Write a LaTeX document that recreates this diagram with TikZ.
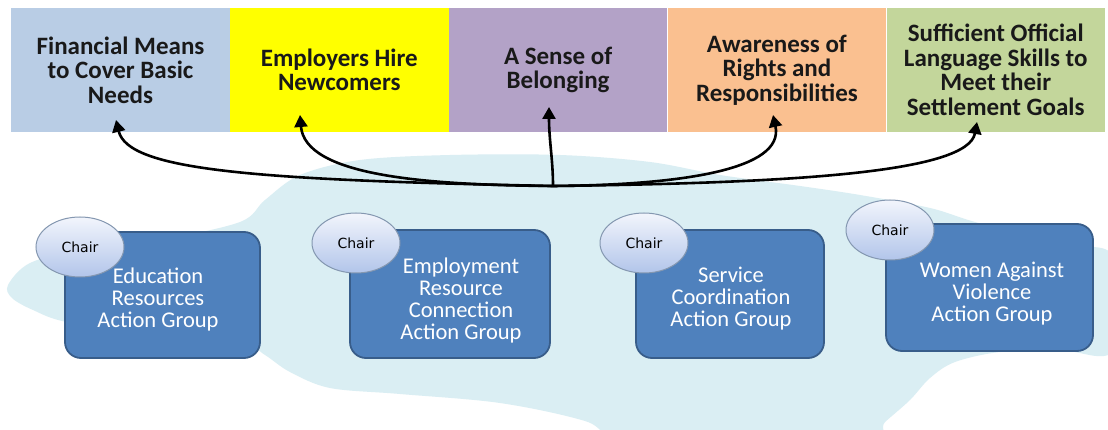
\documentclass[tikz,border=0pt]{standalone}
\usepackage{fontspec}
\setmainfont{Carlito}
\newfontfamily\chairfont{DejaVu Sans}
\usetikzlibrary{positioning,shapes.geometric,arrows.meta}

\definecolor{goalblue}{HTML}{B9CDE5}
\definecolor{goalyellow}{HTML}{FFFF00}
\definecolor{goalpurple}{HTML}{B3A2C7}
\definecolor{goalorange}{HTML}{FAC090}
\definecolor{goalgreen}{HTML}{C3D69B}
\definecolor{cloudfill}{HTML}{DAEEF3}
\definecolor{groupfill}{HTML}{4F81BD}
\definecolor{groupedge}{HTML}{385D8A}
\definecolor{chairtop}{HTML}{F2F5FC}
\definecolor{chairbot}{HTML}{B2C5EA}
\definecolor{chairedge}{HTML}{8497B0}

\tikzset{
    goal/.style={minimum width=218.4pt, minimum height=124pt, inner sep=0pt, align=center,
        font=\fontsize{25}{24.5}\selectfont\bfseries, text=black!90},
    group/.style={draw=groupedge, line width=1.8pt, fill=groupfill, rounded corners=16pt, inner sep=0pt},
    grouptext/.style={align=center, inner sep=0pt, text=white, font=\fontsize{22.5}{22}\selectfont},
    chair/.style={ellipse, draw=chairedge, line width=1pt, top color=chairtop, bottom color=chairbot,
        minimum width=88pt, minimum height=60pt, inner sep=0pt, font=\chairfont\fontsize{14}{16}\selectfont},
    link/.style={line width=2.6pt, -{Triangle[length=12pt,width=13pt]}}
}

\begin{document}
\begin{tikzpicture}[x=1pt, y=-1pt]
    \fill[white] (0, 0) rectangle (1108, 430);
    \useasboundingbox (0, 0) rectangle (1108, 430);

    % cloud behind the action groups
    \begin{scope}
        \clip (0, 0) rectangle (1108, 430);
        \fill[cloudfill] plot[smooth cycle, tension=0.55] coordinates {
            (8,285) (30,263) (80,250) (160,240) (240,222) (265,200) (300,175) (360,160)
            (450,155) (560,155) (650,162) (720,175) (800,186) (860,195) (930,208)
            (975,222) (1060,245) (1114,257) (1114,350) (1060,350) (1000,352) (955,362)
            (930,378) (910,400) (885,422) (860,445) (640,445) (585,421) (500,403)
            (400,394) (330,388) (290,372) (265,355) (240,342) (150,332) (67,322)
            (33,310) (12,298)};
    \end{scope}

    % outcome boxes
    \node[goal, fill=goalblue] (money) at (120.5, 70) {Financial Means\\to Cover Basic\\Needs};
    \node[goal, fill=goalyellow, right=0pt of money] (hire) {Employers Hire\\Newcomers};
    \node[goal, fill=goalpurple, right=0pt of hire] (belong) {A Sense of\\Belonging};
    \node[goal, fill=goalorange, right=0pt of belong] (rights) {Awareness of\\Rights and\\Responsibilities};
    \node[goal, fill=goalgreen, right=0pt of rights] (language) {Sufficient Official\\Language Skills to\\Meet their\\Settlement Goals};

    % action groups with their chairs
    \node[group, minimum width=195pt, minimum height=126pt] (edu) at (162.5, 295) {};
    \node[group, minimum width=200pt, minimum height=128pt] (employ) at (450, 294) {};
    \node[group, minimum width=188pt, minimum height=128pt] (service) at (730, 294) {};
    \node[group, minimum width=207pt, minimum height=127pt] (women) at (989.5, 287.5) {};

    \node[grouptext] (edutext) at (158, 300) {Education\\Resources\\Action Group};
    \node[grouptext] (employtext) at (461, 300.5) {Employment\\Resource\\Connection\\Action Group};
    \node[grouptext] (servicetext) at (731, 299) {Service\\Coordination\\Action Group};
    \node[grouptext] (womentext) at (992, 294) {Women Against\\Violence\\Action Group};

    \node[chair] (educhair) at (80, 247) {Chair};
    \node[chair] (employchair) at (356, 243) {Chair};
    \node[chair] (servicechair) at (644, 243) {Chair};
    \node[chair] (womenchair) at (890, 230) {Chair};

    % arrows fanning out to the outcomes
    \coordinate (hub) at (553, 186);
    \coordinate (t1) at (116, 120);
    \coordinate (t2) at (300, 115);
    \coordinate (t3) at (549, 107);
    \coordinate (t4) at (773, 115);
    \coordinate (t5) at (977, 122);

    \draw[link] (hub) .. controls (250, 180) and (128, 170) .. (t1);
    \draw[link] (hub) .. controls (420, 185) and (305, 175) .. (t2);
    \draw[link] (hub) .. controls (553, 160) and (549, 140) .. (t3);
    \draw[link] (hub) .. controls (680, 185) and (785, 170) .. (t4);
    \draw[link] (hub) .. controls (800, 183) and (968, 172) .. (t5);
\end{tikzpicture}
\end{document}
